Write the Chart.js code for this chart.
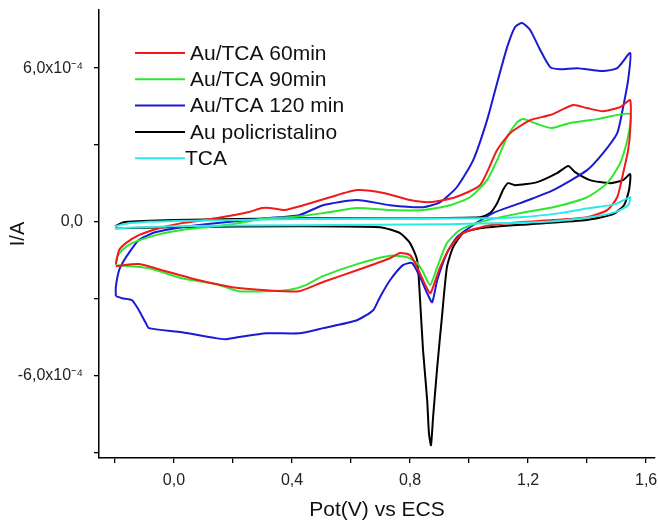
<!DOCTYPE html>
<html>
<head>
<meta charset="utf-8">
<script src="https://cdn.jsdelivr.net/npm/chart.js@4.4.0/dist/chart.umd.min.js"></script>
<style>
  html, body { margin: 0; padding: 0; background: #fff; }
  #wrap { width: 658px; height: 527px; }
</style>
</head>
<body>
<div id="wrap"><canvas id="cv" width="658" height="527"></canvas></div>
<script>
// potential in V vs ECS, current in units of 1e-4 A
const au60 = [
  [-0.197,-1.65],[-0.186,-1.11],[-0.163,-0.83],[-0.119,-0.52],[-0.051,-0.25],[0.027,-0.05],
  [0.142,0.14],[0.254,0.38],[0.298,0.54],[0.325,0.54],[0.376,0.46],[0.427,0.61],[0.529,0.96],
  [0.620,1.24],[0.715,1.12],[0.800,0.85],[0.868,0.77],[0.953,0.96],[1.037,1.43],[1.095,2.80],
  [1.139,3.46],[1.207,3.97],[1.275,4.17],[1.353,4.56],[1.400,4.44],[1.454,4.32],[1.512,4.48],
  [1.546,4.75],[1.546,3.58],[1.539,2.80],[1.522,1.90],[1.502,0.96],[1.468,0.46],[1.400,0.18],
  [1.285,0.07],[1.173,-0.01],[1.071,-0.13],[0.980,-0.44],[0.936,-0.99],[0.902,-1.77],
  [0.878,-2.55],[0.868,-2.79],[0.844,-2.28],[0.824,-1.77],[0.800,-1.30],[0.766,-1.22],
  [0.732,-1.42],[0.620,-1.89],[0.505,-2.35],[0.424,-2.71],[0.312,-2.67],[0.197,-2.55],
  [0.085,-2.28],[-0.027,-1.93],[-0.119,-1.65],[-0.197,-1.73]
];
const au90 = [
  [-0.197,-1.69],[-0.193,-1.38],[-0.176,-1.11],[-0.142,-0.83],[-0.061,-0.52],[0.027,-0.32],
  [0.108,-0.21],[0.197,-0.09],[0.315,0.14],[0.393,0.18],[0.505,0.34],[0.620,0.54],[0.732,0.46],
  [0.844,0.46],[0.936,0.65],[1.003,0.96],[1.061,1.63],[1.095,2.41],[1.129,3.31],[1.163,3.89],
  [1.183,4.01],[1.231,3.82],[1.281,3.66],[1.342,3.86],[1.434,4.01],[1.546,4.21],
  [1.536,3.19],[1.512,2.29],[1.468,1.51],[1.400,0.96],[1.285,0.57],[1.173,0.34],[1.037,-0.01],
  [0.969,-0.32],[0.925,-0.83],[0.892,-1.77],[0.868,-2.47],[0.844,-1.96],[0.824,-1.61],
  [0.790,-1.38],[0.732,-1.32],[0.620,-1.65],[0.505,-2.12],[0.440,-2.50],[0.393,-2.65],
  [0.312,-2.71],[0.220,-2.71],[0.142,-2.43],[0.027,-2.20],[-0.085,-1.81],[-0.197,-1.69]
];
const au120 = [
  [-0.197,-2.90],[-0.197,-2.55],[-0.186,-1.89],[-0.169,-1.50],[-0.153,-1.22],[-0.119,-0.71],
  [-0.061,-0.40],[0.027,-0.21],[0.108,-0.09],[0.254,0.07],[0.312,0.14],[0.424,0.26],
  [0.505,0.65],[0.620,0.85],[0.732,0.65],[0.844,0.57],[0.902,0.77],[0.959,1.36],[1.014,2.41],
  [1.061,3.97],[1.095,5.42],[1.129,6.82],[1.156,7.61],[1.180,7.76],[1.207,7.49],[1.241,6.71],
  [1.275,6.04],[1.308,5.96],[1.366,6.00],[1.454,5.89],[1.502,6.00],[1.546,6.59],
  [1.539,5.54],[1.522,4.48],[1.502,3.46],[1.454,2.68],[1.400,2.02],[1.285,1.24],[1.173,0.73],
  [1.081,0.34],[1.003,-0.21],[0.959,-0.60],[0.925,-1.22],[0.892,-2.28],[0.875,-3.14],
  [0.858,-2.79],[0.834,-2.16],[0.807,-1.61],[0.776,-1.69],[0.732,-2.28],[0.698,-2.94],
  [0.675,-3.45],[0.620,-3.84],[0.505,-4.15],[0.424,-4.35],[0.312,-4.35],[0.220,-4.50],
  [0.176,-4.58],[0.142,-4.54],[0.027,-4.31],[-0.085,-4.15],[-0.095,-3.96],[-0.119,-3.45],
  [-0.142,-3.06],[-0.176,-2.98],[-0.197,-2.90]
];
const auPoly = [
  [-0.200,-0.17],[-0.166,-0.01],[0,0.07],[0.427,0.14],[0.766,0.14],[1.037,0.18],[1.071,0.34],
  [1.095,0.73],[1.115,1.24],[1.132,1.51],[1.156,1.43],[1.231,1.55],[1.298,1.90],[1.336,2.18],
  [1.359,1.94],[1.410,1.63],[1.478,1.51],[1.522,1.63],[1.546,1.86],[1.542,1.24],[1.525,0.65],
  [1.488,0.30],[1.400,0.07],[1.207,-0.09],[1.037,-0.25],[0.980,-0.44],[0.946,-0.99],
  [0.925,-1.77],[0.908,-3.72],[0.892,-5.68],[0.878,-7.63],[0.871,-8.72],[0.864,-8.25],
  [0.858,-6.96],[0.844,-5.01],[0.834,-3.06],[0.824,-1.50],[0.800,-0.83],[0.766,-0.44],
  [0.698,-0.21],[0.427,-0.17],[0,-0.21],[-0.200,-0.25]
];
const tca = [
  [-0.200,-0.17],[-0.149,-0.05],[0,0.03],[0.427,0.11],[1.037,0.14],[1.173,0.18],[1.308,0.34],
  [1.410,0.54],[1.495,0.69],[1.546,0.96],[1.539,0.65],[1.495,0.38],[1.410,0.18],[1.241,-0.01],
  [0.936,-0.09],[0.427,-0.13],[0,-0.17],[-0.200,-0.25]
];

const seriesNames = ["Au/TCA 60min", "Au/TCA 90min", "Au/TCA 120 min", "Au policristalino", "TCA"];
const seriesData = [au60, au90, au120, auPoly, tca];
const seriesColors = ["#f01a1a", "#2ee62e", "#1a1ad2", "#000000", "#2ee8e8"];

const xTicks = [-0.2, 0, 0.2, 0.4, 0.6, 0.8, 1.0, 1.2, 1.4, 1.6];
const xLabels = ["", "0,0", "", "0,4", "", "0,8", "", "1,2", "", "1,6"];
const yTicks = [-9, -6, -3, 0, 3, 6];
const yLabels = ["", "-6,0x10\u207B\u2074", "", "0,0", "", "6,0x10\u207B\u2074"];

const FONT = '"Liberation Sans", Arial, sans-serif';

const insideLegend = {
  id: 'insideLegend',
  afterDraw(chart) {
    const ctx = chart.ctx;
    ctx.save();
    ctx.font = '21px ' + FONT;
    ctx.textBaseline = 'middle';
    ctx.fillStyle = '#111';
    seriesNames.forEach((name, i) => {
      const y = 53 + i * 26.3;
      ctx.strokeStyle = seriesColors[i];
      ctx.lineWidth = 2;
      ctx.beginPath();
      ctx.moveTo(135, y);
      ctx.lineTo(185, y);
      ctx.stroke();
      ctx.fillText(name, name === "TCA" ? 185 : 190, y + 1);
    });
    ctx.restore();
  }
};

new Chart(document.getElementById('cv'), {
  type: 'scatter',
  data: {
    datasets: seriesNames.map((name, i) => ({
      label: name,
      data: seriesData[i].map(p => ({ x: p[0], y: p[1] * 1e-4 })),
      borderColor: seriesColors[i],
      backgroundColor: seriesColors[i],
      borderWidth: 2,
      showLine: true,
      pointRadius: 0,
      tension: 0.2,
      order: name === "TCA" ? -1 : i
    }))
  },
  options: {
    responsive: false,
    animation: false,
    devicePixelRatio: 1,
    layout: { padding: { top: 10, right: 3, left: 0, bottom: 0 } },
    plugins: { legend: { display: false }, tooltip: { enabled: false } },
    scales: {
      x: {
        type: 'linear',
        min: -0.254,
        max: 1.63,
        afterBuildTicks: s => { s.ticks = xTicks.map(v => ({ value: v })); },
        afterFit: s => { s.height = 69; s.paddingLeft = 0; s.paddingRight = 0; },
        ticks: {
          callback: (v, i) => xLabels[i],
          font: { family: FONT, size: 16 },
          color: '#222',
          padding: 8,
          maxRotation: 0,
          autoSkip: false
        },
        grid: { drawOnChartArea: false, drawTicks: true, tickLength: 5, color: '#000', lineWidth: 1.3 },
        border: { display: true, color: '#000', width: 1.5 },
        title: { display: true, text: 'Pot(V) vs ECS', font: { family: FONT, size: 21 }, color: '#111', padding: { bottom: 4 } }
      },
      y: {
        type: 'linear',
        min: -9.22e-4,
        max: 8.27e-4,
        afterBuildTicks: s => { s.ticks = yTicks.map(v => ({ value: v * 1e-4 })); },
        afterFit: s => { s.width = 99; s.paddingTop = 0; s.paddingBottom = 0; },
        ticks: {
          callback: (v, i) => yLabels[i],
          font: { family: FONT, size: 16 },
          color: '#222',
          padding: 11,
          autoSkip: false
        },
        grid: { drawOnChartArea: false, drawTicks: true, tickLength: 5, color: '#000', lineWidth: 1.3 },
        border: { display: true, color: '#000', width: 1.5 },
        title: { display: true, text: 'I/A', font: { family: FONT, size: 20 }, color: '#111', padding: { top: 6 } }
      }
    }
  },
  plugins: [insideLegend]
});
</script>
</body>
</html>
